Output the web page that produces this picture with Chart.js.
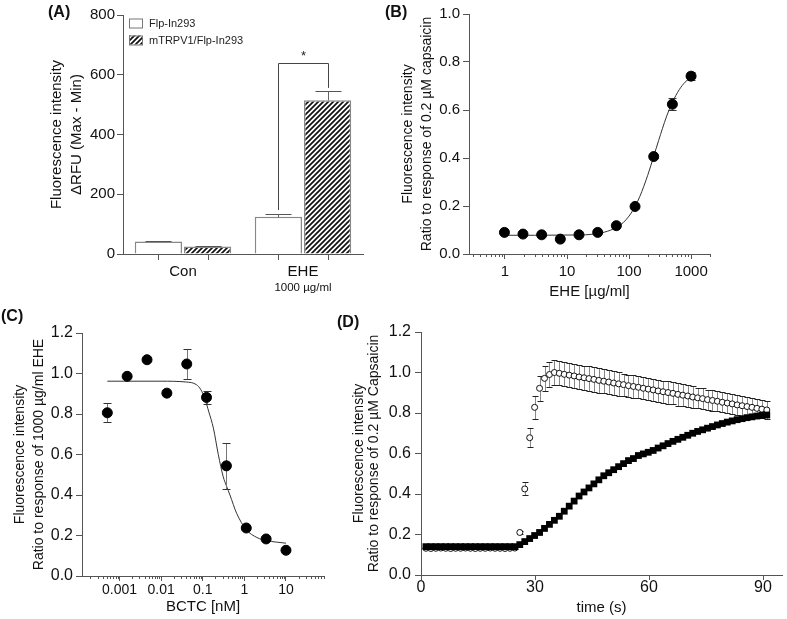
<!DOCTYPE html>
<html>
<head>
<meta charset="utf-8">
<script src="https://cdn.jsdelivr.net/npm/chart.js@4.4.0/dist/chart.umd.min.js"></script>
<style>
  body { margin: 0; background: #fff; }
  #wrap { position: relative; width: 787px; height: 619px; overflow: hidden;
          font-family: "Liberation Sans", Arial, sans-serif; }
  #wrap canvas { position: absolute; left: 0; top: 0; }
  .tag { position: absolute; font-weight: bold; font-size: 16px; color: #111; line-height: 1; }
</style>
</head>
<body>
<div id="wrap">
  <canvas id="chA" width="787" height="619"></canvas>
  <canvas id="chB" width="787" height="619"></canvas>
  <canvas id="chC" width="787" height="619"></canvas>
  <canvas id="chD" width="787" height="619"></canvas>
  <div class="tag" style="left:48px;top:4px">(A)</div>
  <div class="tag" style="left:385px;top:4px">(B)</div>
  <div class="tag" style="left:1px;top:308px">(C)</div>
  <div class="tag" style="left:337px;top:314px">(D)</div>
</div>
<script>
// ---- (A) bar chart: dRFU ----
const catsA = ['Con', 'EHE'];
const flpMean = [42, 125];
const flpErr = [2, 9];
const trpMean = [25, 515];
const trpErr = [2, 31];
const yTicksA = [0, 200, 400, 600, 800];
// significance bracket (data units)
const bracketTop = 639, bracketLeftEnd = 147, bracketRightEnd = 556;

// ---- (B) EHE dose response ----
const eheDose = [0.98, 1.95, 3.9, 7.8, 15.6, 31.25, 62.5, 125, 250, 500, 1000];
const eheResp = [0.090, 0.083, 0.080, 0.062, 0.080, 0.090, 0.118, 0.198, 0.406, 0.624, 0.741];
const eheErr  = [0.004, 0.003, 0.003, 0.004, 0.003, 0.004, 0.005, 0.006, 0.008, 0.026, 0.018];
const eheFitX = [0.98, 3, 10, 20, 30, 40, 50, 65, 80, 100, 125, 150, 200, 250, 300, 400, 500, 650, 800, 1000];
const eheFitY = [0.078, 0.078, 0.079, 0.080, 0.085, 0.091, 0.099, 0.113, 0.130, 0.158, 0.198, 0.241, 0.328, 0.407, 0.473, 0.571, 0.632, 0.686, 0.716, 0.737];
const eheMajor = [1, 10, 100, 1000];

// ---- (C) BCTC inhibition ----
const bctcDose = [0.000508, 0.00152, 0.00457, 0.0137, 0.0412, 0.123, 0.37, 1.11, 3.33, 10];
const bctcResp = [0.806, 0.986, 1.068, 0.903, 1.047, 0.882, 0.544, 0.237, 0.183, 0.127];
const bctcErr  = [0.047, 0.004, 0.004, 0.004, 0.074, 0.034, 0.113, 0.006, 0.005, 0.004];
const bctcFitX = [0.000508, 0.01, 0.04, 0.07, 0.09, 0.11, 0.14, 0.18, 0.236, 0.31, 0.37, 0.45, 0.65, 1.1, 2, 3.4, 10];
const bctcFitY = [0.962, 0.962, 0.958, 0.945, 0.92, 0.88, 0.81, 0.73, 0.60, 0.49, 0.445, 0.40, 0.31, 0.23, 0.19, 0.175, 0.162];
const bctcMajor = [0.001, 0.01, 0.1, 1, 10];

// ---- (D) time course ----
const timeS = [1.3, 2.6, 3.9, 5.2, 6.5, 7.8, 9.1, 10.4, 11.7, 13.0, 14.3, 15.6, 16.9, 18.2, 19.5, 20.8, 22.1, 23.4, 24.7, 26.0,
  27.3, 28.6, 29.9, 31.2, 32.5, 33.8, 35.1, 36.4, 37.7, 39.0, 40.3, 41.6, 42.9, 44.2, 45.5, 46.8, 48.1, 49.4, 50.7, 52.0,
  53.3, 54.6, 55.9, 57.2, 58.5, 59.8, 61.1, 62.4, 63.7, 65.0, 66.3, 67.6, 68.9, 70.2, 71.5, 72.8, 74.1, 75.4, 76.7, 78.0,
  79.3, 80.6, 81.9, 83.2, 84.5, 85.8, 87.1, 88.4, 89.7, 91.0];
const capsMean = [0.132, 0.131, 0.132, 0.133, 0.132, 0.131, 0.132, 0.132, 0.133, 0.132, 0.131, 0.132, 0.132, 0.133, 0.132, 0.132, 0.131, 0.132, 0.133, 0.210,
  0.425, 0.678, 0.828, 0.922, 0.971, 0.990, 1.000, 0.996, 0.991, 0.987, 0.983, 0.978, 0.974, 0.970, 0.966, 0.961, 0.957, 0.953, 0.948, 0.944,
  0.940, 0.935, 0.931, 0.927, 0.922, 0.918, 0.914, 0.909, 0.905, 0.901, 0.897, 0.892, 0.888, 0.884, 0.879, 0.875, 0.871, 0.866, 0.862, 0.858,
  0.853, 0.849, 0.845, 0.840, 0.836, 0.832, 0.828, 0.823, 0.819, 0.815];
const capsErr = [0.004, 0.004, 0.004, 0.004, 0.004, 0.004, 0.004, 0.004, 0.004, 0.004, 0.004, 0.004, 0.004, 0.004, 0.004, 0.004, 0.004, 0.004, 0.004, 0.008,
  0.032, 0.046, 0.058, 0.062, 0.060, 0.060, 0.060, 0.060, 0.060, 0.060, 0.060, 0.060, 0.060, 0.060, 0.060, 0.060, 0.060, 0.060, 0.060, 0.060,
  0.055, 0.055, 0.055, 0.055, 0.055, 0.055, 0.055, 0.055, 0.055, 0.055, 0.055, 0.055, 0.055, 0.055, 0.055, 0.050, 0.050, 0.050, 0.050, 0.050,
  0.050, 0.050, 0.050, 0.050, 0.050, 0.048, 0.048, 0.047, 0.046, 0.045];
const eheTimeMean = [0.140, 0.140, 0.140, 0.140, 0.140, 0.140, 0.140, 0.140, 0.140, 0.140, 0.140, 0.140, 0.140, 0.140, 0.140, 0.140, 0.140, 0.140, 0.140, 0.150,
  0.165, 0.180, 0.195, 0.210, 0.230, 0.250, 0.270, 0.290, 0.315, 0.340, 0.365, 0.390, 0.410, 0.430, 0.450, 0.470, 0.490, 0.505, 0.520, 0.535,
  0.550, 0.565, 0.575, 0.590, 0.598, 0.606, 0.615, 0.627, 0.638, 0.649, 0.660, 0.670, 0.680, 0.690, 0.700, 0.709, 0.717, 0.725, 0.733, 0.741,
  0.748, 0.755, 0.761, 0.767, 0.772, 0.777, 0.781, 0.785, 0.788, 0.790];

// ---------------------------------------------------------------
const FONT = '"Liberation Sans", Arial, sans-serif';
const AXIS = '#555';
Chart.defaults.font.family = FONT;
Chart.defaults.color = '#111';
Chart.defaults.animation = false;
Chart.defaults.responsive = false;
Chart.defaults.plugins.legend.display = false;
Chart.defaults.plugins.tooltip.enabled = false;

const toXY = (xs, ys) => xs.map((x, i) => ({ x: x, y: ys[i] }));

// error bars, drawn through the chart's own y scale
function drawErrors(chart, index, phase) {
  const ds = chart.data.datasets[index];
  if (!ds.errors || (ds.errPhase || 'before') !== phase) return;
  const meta = chart.getDatasetMeta(index);
  const ys = chart.scales[meta.yAxisID];
  const ctx = chart.ctx;
  const cap = ds.capHalf || 4;
  ctx.save();
  ctx.lineWidth = 1;
  meta.data.forEach((el, j) => {
    const e = ds.errors[j];
    if (!e) return;
    const d = ds.data[j];
    const v = typeof d === 'number' ? d : d.y;
    const x = Math.round(el.x) + 0.5;
    const top = Math.round(ys.getPixelForValue(v + e)) + 0.5;
    const bot = Math.round(ys.getPixelForValue(ds.upOnly ? v : v - e)) + 0.5;
    ctx.strokeStyle = ds.errColor || '#777';
    ctx.beginPath(); ctx.moveTo(x, bot); ctx.lineTo(x, top); ctx.stroke();
    ctx.strokeStyle = ds.capColor || '#333';
    ctx.beginPath();
    ctx.moveTo(x - cap, top); ctx.lineTo(x + cap, top);
    if (!ds.upOnly) { ctx.moveTo(x - cap, bot); ctx.lineTo(x + cap, bot); }
    ctx.stroke();
  });
  ctx.restore();
}
const errorBars = {
  id: 'errorBars',
  beforeDatasetDraw(chart, args) { drawErrors(chart, args.index, 'before'); },
  afterDatasetDraw(chart, args) { drawErrors(chart, args.index, 'after'); }
};

// short minor tick marks on a log x axis
const minorTicks = {
  id: 'minorTicks',
  afterDraw(chart, args, opts) {
    const xs = chart.scales.x;
    const y0 = chart.chartArea.bottom;
    const ctx = chart.ctx;
    ctx.save();
    ctx.strokeStyle = AXIS;
    ctx.lineWidth = 1;
    ctx.beginPath();
    for (let p = opts.fromExp; p <= opts.toExp; p++) {
      for (let m = 2; m <= 9; m++) {
        const v = m * Math.pow(10, p);
        if (v < xs.min || v > xs.max) continue;
        const px = Math.round(xs.getPixelForValue(v)) + 0.5;
        ctx.moveTo(px, y0); ctx.lineTo(px, y0 + 3);
      }
    }
    ctx.stroke();
    ctx.restore();
  }
};

function yAxis(min, max, step, digits, lines, o) {
  return {
    type: 'linear', min: min, max: max,
    afterFit: s => { s.width = o.width; },
    border: { color: AXIS, width: 1 },
    grid: { drawOnChartArea: false, tickLength: o.tick, color: AXIS },
    ticks: { stepSize: step, padding: o.pad, color: '#111',
             font: { size: o.size, lineHeight: 1 },
             callback: v => Number(v).toFixed(digits) },
    title: { display: true, text: lines, color: '#111',
             font: { size: o.tsize, lineHeight: o.lh / o.tsize },
             padding: { top: o.tpad, bottom: 0 } }
  };
}

function logX(min, max, majors, label, o) {
  return {
    type: 'logarithmic', min: min, max: max,
    afterFit: s => { s.height = o.height; },
    afterBuildTicks: s => { s.ticks = majors.map(v => ({ value: v, major: true })); },
    border: { color: AXIS, width: 1 },
    grid: { drawOnChartArea: false, tickLength: 5, color: AXIS },
    ticks: { autoSkip: false, maxRotation: 0, padding: o.pad, color: '#111',
             font: { size: o.size, lineHeight: 1 },
             callback: v => String(v) },
    title: { display: true, text: label, color: '#111',
             font: { size: 15, lineHeight: 1.2 }, padding: { top: 0, bottom: o.tpad } }
  };
}

// ---------------- (A) ----------------
function hatchPattern() {
  const c = document.createElement('canvas');
  c.width = 5; c.height = 5;
  const g = c.getContext('2d');
  g.fillStyle = '#fff'; g.fillRect(0, 0, 5, 5);
  g.strokeStyle = '#111'; g.lineWidth = 1.7;
  g.beginPath();
  g.moveTo(-1, 6); g.lineTo(6, -1);
  g.moveTo(-3.5, 3.5); g.lineTo(3.5, -3.5);
  g.moveTo(1.5, 8.5); g.lineTo(8.5, 1.5);
  g.stroke();
  return g.createPattern(c, 'repeat');
}
const hatch = hatchPattern();

const panelAExtras = {
  id: 'panelAExtras',
  afterDraw(chart) {
    const ctx = chart.ctx, ca = chart.chartArea, y = chart.scales.y, x = chart.scales.x;
    ctx.save();
    // tick marks under each bar
    ctx.strokeStyle = AXIS; ctx.lineWidth = 1; ctx.beginPath();
    [0, 1].forEach(d => chart.getDatasetMeta(d).data.forEach(el => {
      const px = Math.round(el.x) + 0.5;
      ctx.moveTo(px, ca.bottom); ctx.lineTo(px, ca.bottom + 6);
    }));
    ctx.stroke();
    // significance bracket
    const x0 = Math.round(chart.getDatasetMeta(0).data[1].x) + 0.5;
    const x1 = Math.round(chart.getDatasetMeta(1).data[1].x) + 0.5;
    const yt = Math.round(y.getPixelForValue(bracketTop)) + 0.5;
    ctx.strokeStyle = '#444';
    ctx.beginPath();
    ctx.moveTo(x0, y.getPixelForValue(bracketLeftEnd)); ctx.lineTo(x0, yt);
    ctx.lineTo(x1, yt); ctx.lineTo(x1, y.getPixelForValue(bracketRightEnd));
    ctx.stroke();
    ctx.fillStyle = '#222'; ctx.font = '13px ' + FONT;
    ctx.textAlign = 'center'; ctx.textBaseline = 'middle';
    ctx.fillText('*', (x0 + x1) / 2, yt - 7);
    // dose under the EHE label
    ctx.font = '11.5px ' + FONT; ctx.fillStyle = '#111';
    ctx.fillText('1000 \u00b5g/ml', x.getPixelForValue(1), ca.bottom + 34);
    // legend
    const lx = ca.left + 6;
    const items = [['Flp-In293', '#fff'], ['mTRPV1/Flp-In293', hatch]];
    ctx.font = '11px ' + FONT; ctx.textAlign = 'left';
    items.forEach((it, i) => {
      const ty = ca.top + 3.5 + i * 17;
      ctx.fillStyle = it[1]; ctx.fillRect(lx, ty, 13, 9);
      ctx.strokeStyle = '#777'; ctx.strokeRect(lx + 0.5, ty + 0.5, 13, 9);
      ctx.fillStyle = '#222'; ctx.fillText(it[0], lx + 20, ty + 5);
    });
    ctx.restore();
  }
};

new Chart(document.getElementById('chA'), {
  type: 'bar',
  data: {
    labels: catsA,
    datasets: [
      { label: 'Flp-In293', data: flpMean, errors: flpErr, upOnly: true, errPhase: 'after', capHalf: 13,
        errColor: '#666', capColor: '#555',
        backgroundColor: '#fff', borderColor: '#888', borderWidth: 1.5,
        categoryPercentage: 0.82, barPercentage: 0.96 },
      { label: 'mTRPV1/Flp-In293', data: trpMean, errors: trpErr, upOnly: true, errPhase: 'after', capHalf: 13,
        errColor: '#666', capColor: '#555',
        backgroundColor: hatch, borderColor: '#888', borderWidth: 1.5,
        categoryPercentage: 0.82, barPercentage: 0.96 }
    ]
  },
  options: {
    layout: { padding: { left: 37, top: 15, right: 424, bottom: 319 } },
    scales: {
      x: {
        afterFit: s => { s.height = 46; },
        border: { color: AXIS, width: 1 },
        grid: { display: false, drawTicks: false },
        ticks: { padding: 10.5, color: '#111', font: { size: 15, lineHeight: 1 } }
      },
      y: Object.assign(yAxis(0, 800, 200, 0, ['Fluorescence intensity', '\u0394RFU (Max - Min)'],
        { width: 86, tick: 6, pad: 2, size: 15, tsize: 15, lh: 20, tpad: 10 }),
        { afterBuildTicks: s => { s.ticks = yTicksA.map(v => ({ value: v })); } })
    }
  },
  plugins: [errorBars, panelAExtras]
});

// ---------------- (B) ----------------
new Chart(document.getElementById('chB'), {
  type: 'scatter',
  data: {
    datasets: [
      { data: toXY(eheDose, eheResp), errors: eheErr, capHalf: 4,
        pointRadius: 5, pointBackgroundColor: '#000', pointBorderColor: '#000' },
      { data: toXY(eheFitX, eheFitY), showLine: true, pointRadius: 0,
        borderColor: '#333', borderWidth: 1, cubicInterpolationMode: 'monotone' }
    ]
  },
  options: {
    layout: { padding: { left: 396, top: 14, right: 77, bottom: 315 } },
    scales: {
      x: logX(0.263, 2020, eheMajor, 'EHE [\u00b5g/ml]', { height: 50, pad: 5.5, size: 15, tpad: 3 }),
      y: yAxis(0, 1, 0.2, 1, ['Fluorescence intensity', 'Ratio to response of 0.2 \u00b5M capsaicin'],
        { width: 73, tick: 6, pad: 3, size: 15, tsize: 14, lh: 19, tpad: 2.5 })
    },
    plugins: { minorTicks: { fromExp: -1, toExp: 3 } }
  },
  plugins: [errorBars, minorTicks]
});

// ---------------- (C) ----------------
new Chart(document.getElementById('chC'), {
  type: 'scatter',
  data: {
    datasets: [
      { data: toXY(bctcDose, bctcResp), errors: bctcErr, capHalf: 4,
        pointRadius: 5, pointBackgroundColor: '#000', pointBorderColor: '#000' },
      { data: toXY(bctcFitX, bctcFitY), showLine: true, pointRadius: 0,
        borderColor: '#333', borderWidth: 1, cubicInterpolationMode: 'monotone' }
    ]
  },
  options: {
    layout: { padding: { left: 2, top: 333, right: 463, bottom: 0 } },
    scales: {
      x: logX(0.000125, 82, bctcMajor, 'BCTC [nM]', { height: 43, pad: 2, size: 14, tpad: 3 }),
      y: yAxis(0, 1.2, 0.2, 1, ['Fluorescence intensity', 'Ratio to response of 1000 \u00b5g/ml EHE'],
        { width: 80, tick: 6, pad: 3, size: 16, tsize: 14, lh: 19, tpad: 9 })
    },
    plugins: { minorTicks: { fromExp: -4, toExp: 1 } }
  },
  plugins: [errorBars, minorTicks]
});

// ---------------- (D) ----------------
new Chart(document.getElementById('chD'), {
  type: 'scatter',
  data: {
    datasets: [
      { data: toXY(timeS, eheTimeMean), pointStyle: 'rect', pointRadius: 4.8,
        pointBackgroundColor: '#000', pointBorderColor: '#000', pointBorderWidth: 0 },
      { data: toXY(timeS, capsMean), errors: capsErr, capHalf: 3, errColor: '#888', capColor: '#222',
        pointRadius: 3, pointBackgroundColor: '#fff', pointBorderColor: '#111', pointBorderWidth: 1 }
    ]
  },
  options: {
    layout: { padding: { left: 349, top: 332, right: 2, bottom: 0 } },
    scales: {
      x: {
        type: 'linear', min: 0, max: 95,
        afterFit: s => { s.height = 44; },
        border: { color: AXIS, width: 1 },
        grid: { drawOnChartArea: false, tickLength: 5, color: AXIS },
        ticks: { stepSize: 30, includeBounds: false, padding: 0, color: '#111',
                 font: { size: 16, lineHeight: 1 } },
        title: { display: true, text: 'time (s)', color: '#111',
                 font: { size: 15, lineHeight: 1.2 }, padding: { top: 0, bottom: 2 } }
      },
      y: yAxis(0, 1.2, 0.2, 1, ['Fluorescence intensity', 'Ratio to response of 0.2 \u00b5M Capsaicin'],
        { width: 72, tick: 6, pad: 4, size: 16, tsize: 14, lh: 15, tpad: 2.5 })
    }
  },
  plugins: [errorBars]
});
</script>
</body>
</html>
